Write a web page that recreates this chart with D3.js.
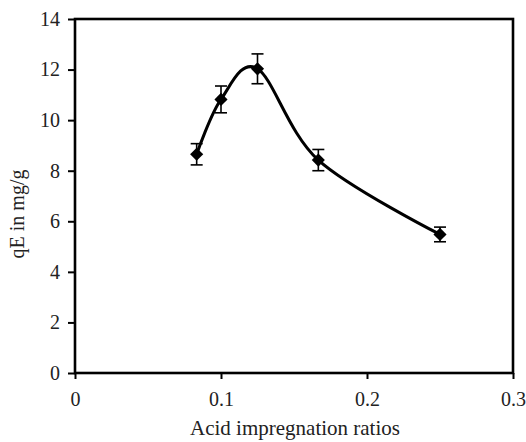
<!DOCTYPE html>
<html>
<head>
<meta charset="utf-8">
<script src="https://cdn.jsdelivr.net/npm/d3@7"></script>
<style>
    body { margin: 0; background: white; }
    svg text { font-family: "Liberation Serif", "Times New Roman", serif; fill: #222; }
</style>
</head>
<body>
<div id="container"></div>
<script>
// acid impregnation ratio vs qE
const ratios = [1 / 12, 0.1, 0.125, 1 / 6, 0.25]
const qE = [8.65, 10.82, 12.03, 8.42, 5.48]
const errors = [0.42, 0.53, 0.59, 0.42, 0.29]
const xTicks = [0, 0.1, 0.2, 0.3]
const yTicks = [0, 2, 4, 6, 8, 10, 12, 14]

const w = 526
const h = 442
const margin = { top: 19, right: 13, bottom: 69, left: 75 }
const fontFam = "'Liberation Serif', 'Times New Roman', serif"

const svg = d3.select("#container")
    .append("svg")
    .attr("width", w)
    .attr("height", h)

const xScale = d3.scaleLinear()
    .domain([0, 0.3])
    .range([margin.left, w - margin.right])
const yScale = d3.scaleLinear()
    .domain([0, 14])
    .range([h - margin.bottom, margin.top])

const points = ratios.map((r, i) => ({ x: r, y: qE[i], e: errors[i] }))

// box around plot
svg.append("rect")
    .attr("x", xScale(0))
    .attr("y", yScale(14))
    .attr("width", xScale(0.3) - xScale(0))
    .attr("height", yScale(0) - yScale(14))
    .attr("fill", "none")
    .attr("stroke", "#000")
    .attr("stroke-width", 2.6)

const xAxis = d3.axisBottom(xScale)
    .tickValues(xTicks)
    .tickFormat((d) => d === 0 ? "0" : d3.format(".1f")(d))
    .tickSize(6)
    .tickPadding(13)
const yAxis = d3.axisLeft(yScale)
    .tickValues(yTicks)
    .tickSize(7)
    .tickPadding(8)

svg.append("g")
    .attr("transform", `translate(0, ${yScale(0)})`)
    .call(xAxis)
    .call((g) => g.select(".domain").remove())
    .attr("font-family", fontFam)
    .attr("font-size", 20)
svg.append("g")
    .attr("transform", `translate(${xScale(0)}, 0)`)
    .call(yAxis)
    .call((g) => g.select(".domain").remove())
    .attr("font-family", fontFam)
    .attr("font-size", 20)

svg.selectAll(".tick line")
    .attr("stroke", "#000")
    .attr("stroke-width", 2)

svg.append("text")
    .text("Acid impregnation ratios")
    .attr("text-anchor", "middle")
    .attr("x", (xScale(0) + xScale(0.3)) / 2 + 1)
    .attr("y", 435)
    .style("font-size", "21px")
svg.append("text")
    .text("qE in mg/g")
    .attr("text-anchor", "middle")
    .attr("transform", `translate(24, ${(yScale(0) + yScale(14)) / 2 + 18}) rotate(270)`)
    .style("font-size", "20px")

// smooth line
const line = d3.line()
    .x((d) => xScale(d.x))
    .y((d) => yScale(d.y))
    .curve(d3.curveCardinal.tension(0))
svg.append("path")
    .datum(points)
    .attr("d", line)
    .attr("fill", "none")
    .attr("stroke", "#000")
    .attr("stroke-width", 3)

// error bars
const bars = svg.selectAll(null)
    .data(points)
    .enter()
    .append("g")
    .attr("stroke", "#000")
    .attr("stroke-width", 1.6)
bars.append("line")
    .attr("x1", (d) => xScale(d.x))
    .attr("x2", (d) => xScale(d.x))
    .attr("y1", (d) => yScale(d.y + d.e))
    .attr("y2", (d) => yScale(d.y - d.e))
bars.append("line")
    .attr("x1", (d) => xScale(d.x) - 6)
    .attr("x2", (d) => xScale(d.x) + 6)
    .attr("y1", (d) => yScale(d.y + d.e))
    .attr("y2", (d) => yScale(d.y + d.e))
bars.append("line")
    .attr("x1", (d) => xScale(d.x) - 6)
    .attr("x2", (d) => xScale(d.x) + 6)
    .attr("y1", (d) => yScale(d.y - d.e))
    .attr("y2", (d) => yScale(d.y - d.e))

// diamond markers
svg.selectAll(null)
    .data(points)
    .enter()
    .append("path")
    .attr("d", d3.symbol().type(d3.symbolDiamond2).size(110))
    .attr("transform", (d) => `translate(${xScale(d.x)}, ${yScale(d.y)})`)
    .attr("fill", "#000")
</script>
</body>
</html>
